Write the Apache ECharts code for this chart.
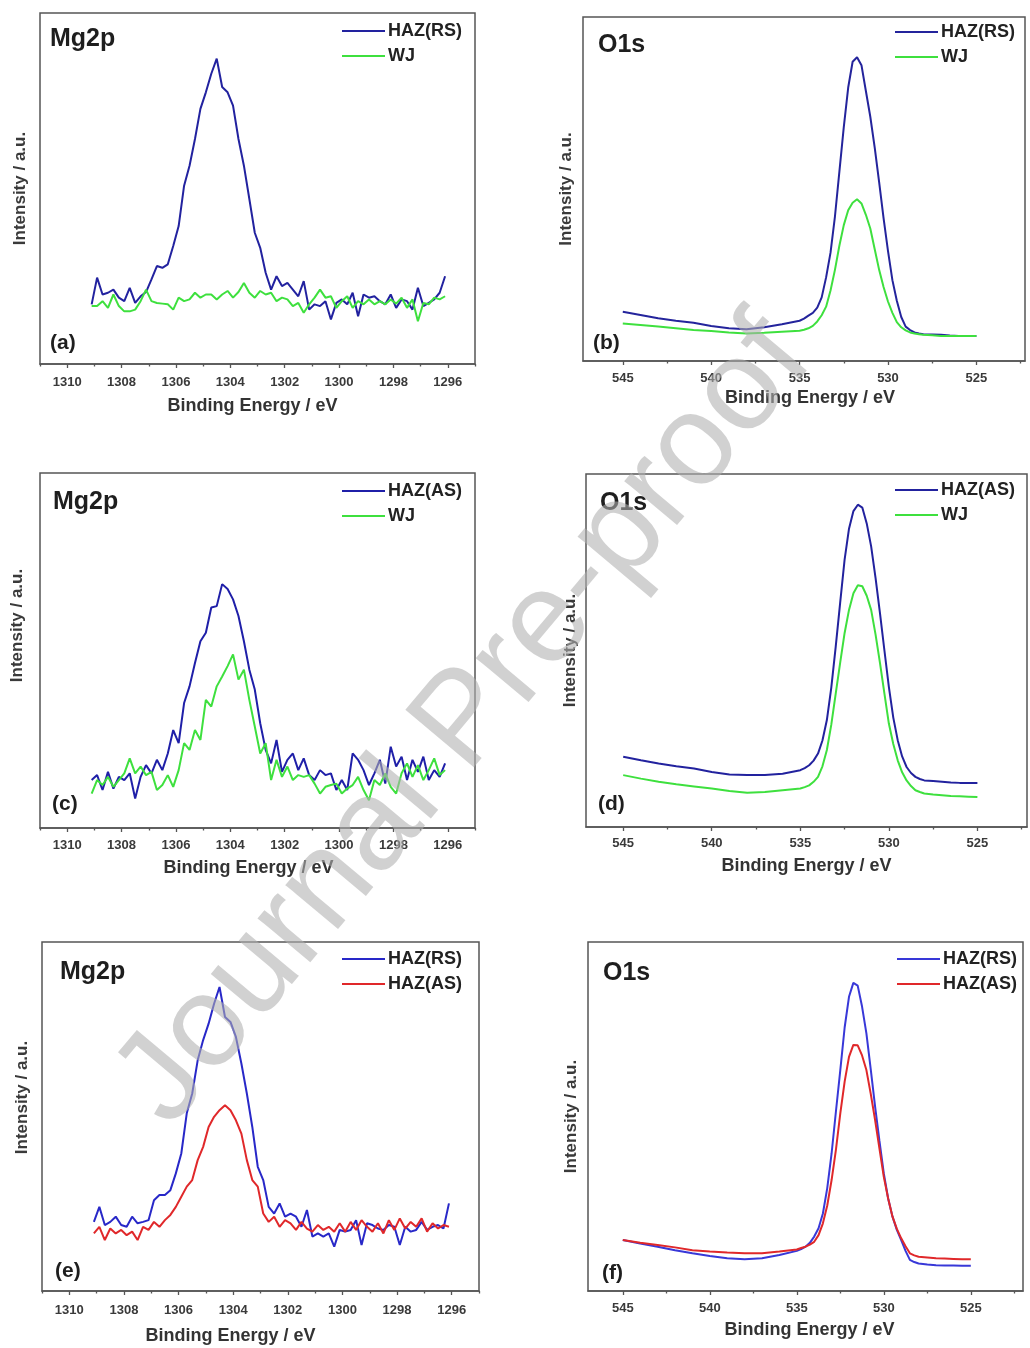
<!DOCTYPE html>
<html>
<head>
<meta charset="utf-8">
<script src="https://cdn.jsdelivr.net/npm/echarts@6/dist/echarts.min.js"></script>
<style>html,body{margin:0;padding:0;background:#fff}#c{width:1030px;height:1348px}</style>
</head>
<body>
<div id="c"></div>
<script>
// ---------- data (binding energy in eV, intensity in arbitrary units) ----------
const mgEnergy = [1309.1,1308.9,1308.7,1308.5,1308.3,1308.1,1307.9,1307.7,1307.5,1307.3,1307.1,1306.9,1306.7,1306.5,1306.3,1306.1,1305.9,1305.7,1305.5,1305.3,1305.1,1304.9,1304.7,1304.5,1304.3,1304.1,1303.9,1303.7,1303.5,1303.3,1303.1,1302.9,1302.7,1302.5,1302.3,1302.1,1301.9,1301.7,1301.5,1301.3,1301.1,1300.9,1300.7,1300.5,1300.3,1300.1,1299.9,1299.7,1299.5,1299.3,1299.1,1298.9,1298.7,1298.5,1298.3,1298.1,1297.9,1297.7,1297.5,1297.3,1297.1,1296.9,1296.7,1296.5,1296.3,1296.1];

const mgA_HAZRS = [17.0,24.6,19.8,20.3,21.2,18.9,17.9,21.7,17.4,19.3,20.5,24.1,27.9,27.4,28.4,33.6,39.3,50.8,56.5,64.1,72.7,77.4,82.7,87.0,78.9,77.4,73.6,64.1,56.5,47.0,37.4,33.1,26.0,21.2,25.0,22.2,23.1,21.2,19.3,23.6,15.5,17.0,16.5,17.9,12.7,17.4,18.4,17.0,20.3,13.6,19.8,18.9,19.3,17.9,17.0,19.8,16.0,18.4,17.9,15.5,21.7,16.5,17.4,18.4,20.3,25.0];
const mgA_WJ = [16.5,16.5,17.9,16.0,19.8,16.5,15.0,15.0,15.5,17.9,21.2,17.9,17.4,17.2,17.0,15.5,18.9,17.9,18.4,20.3,18.9,19.8,19.8,18.4,19.8,20.8,18.9,20.5,23.1,20.3,18.9,20.8,19.8,20.3,17.9,18.9,18.4,16.5,17.4,14.6,17.0,18.9,21.2,18.9,19.3,16.0,17.9,19.3,16.0,17.9,17.0,18.4,17.0,17.9,17.0,18.4,17.2,18.9,16.0,18.4,12.2,17.4,17.0,18.9,18.4,19.3];

const mgC_HAZAS = [13.5,14.9,10.7,15.8,11.1,14.4,13.5,15.4,8.3,14.4,17.7,15.4,19.2,16.3,21.0,27.6,23.9,35.2,39.9,46.5,52.6,55.0,62.1,62.5,68.7,67.3,64.4,59.7,52.6,44.6,39.0,29.5,22.0,18.2,24.8,15.8,19.2,21.0,16.3,19.6,14.9,13.5,16.3,14.9,15.4,10.7,13.5,10.7,21.0,19.2,16.3,12.1,15.4,19.2,12.5,22.9,17.3,20.1,13.5,19.2,15.8,20.1,13.5,16.3,14.4,18.2];
const mgC_WJ = [9.7,13.5,12.1,14.4,11.6,13.5,15.4,19.6,15.4,17.3,14.9,15.8,10.7,12.1,14.9,11.6,16.3,23.9,22.0,27.6,24.8,36.1,34.2,39.9,42.7,45.6,48.9,41.8,44.6,36.1,28.6,21.0,23.9,13.5,19.2,14.4,17.3,13.5,14.9,14.4,14.9,12.5,9.7,11.6,12.1,12.5,9.7,11.1,12.1,14.4,10.7,7.8,13.5,12.1,15.4,11.6,9.7,15.4,18.2,14.4,17.7,13.5,16.3,19.6,14.9,16.3];

const mgE_HAZRS = [19.8,24.1,18.9,19.8,21.3,18.9,18.4,21.3,19.4,19.8,20.3,26.0,27.5,27.5,28.9,33.7,39.4,50.9,56.6,66.1,71.9,76.6,82.3,87.1,78.5,77.1,72.8,65.2,56.6,47.0,35.6,31.8,24.1,22.2,25.1,21.3,22.2,21.3,18.4,23.2,15.6,16.5,15.6,16.5,12.7,17.5,17.0,17.5,20.3,13.2,19.4,18.9,17.9,17.5,18.9,18.4,13.2,18.4,17.0,17.5,19.8,17.5,18.4,18.9,17.9,25.1];
const mgE_HAZAS = [16.5,18.4,14.6,17.9,16.5,17.5,16.0,17.0,14.6,18.4,17.5,19.8,18.4,20.3,21.8,24.1,27.0,29.9,31.8,37.5,41.3,47.0,49.9,51.8,53.2,51.8,48.9,45.1,37.5,31.8,29.9,22.2,19.8,21.3,18.4,20.3,19.4,17.5,19.8,17.9,17.0,18.9,17.5,18.4,17.0,19.4,17.0,19.8,17.5,20.3,18.4,17.0,19.4,16.5,20.3,17.5,20.8,17.9,19.8,18.4,20.8,17.0,19.4,17.9,18.9,18.4];

const oEnergy = [545,544,543,542,541,540,539,538,537,536,535,534.75,534.5,534.25,534,533.75,533.5,533.25,533,532.75,532.5,532.25,532,531.75,531.5,531.25,531,530.75,530.5,530.25,530,529.75,529.5,529.25,529,528.75,528.5,528.25,528,527.5,527,526.5,526,525.5,525];

const oB_HAZRS = [14.3,13.4,12.4,11.7,11.1,10.2,9.5,9.2,9.8,10.7,11.7,12.3,13.2,14.0,15.5,18.5,24.3,31.5,42.0,55.0,68.0,79.5,87.0,88.3,86.0,78.5,71.0,62.0,52.0,41.5,32.0,23.5,17.5,12.8,10.0,9.0,8.3,8.0,7.8,7.7,7.6,7.4,7.3,7.3,7.3];
const oB_WJ = [10.9,10.5,10.0,9.5,9.0,8.7,8.3,8.0,8.2,8.5,8.8,9.1,9.5,10.2,11.5,13.3,15.8,20.5,26.5,33.5,39.5,43.8,46.0,47.0,45.8,42.5,38.5,32.5,26.5,21.5,17.3,14.0,11.3,9.8,8.9,8.3,8.0,7.8,7.6,7.5,7.3,7.3,7.3,7.3,7.3];

const oD_HAZAS = [19.9,18.9,18.0,17.2,16.6,15.6,14.9,14.7,14.7,15.1,16.1,16.7,17.5,18.8,20.8,24.5,30.3,39.5,51.1,63.5,75.7,84.5,89.5,91.3,90.5,86.0,79.5,70.5,60.5,50.0,39.7,31.0,24.6,20.0,17.0,15.3,14.2,13.6,13.2,13.0,12.8,12.6,12.5,12.5,12.5];
const oD_WJ = [14.7,13.7,12.8,12.1,11.5,10.9,10.2,9.7,9.9,10.4,10.9,11.3,11.8,12.8,14.2,17.2,21.8,29.0,37.8,46.5,54.9,61.5,66.2,68.5,68.2,65.5,61.5,54.5,46.4,37.8,29.3,23.5,18.9,15.5,13.2,11.6,10.4,9.9,9.5,9.2,9.0,8.8,8.7,8.6,8.5];

const oF_HAZRS = [14.6,13.6,12.7,11.7,10.8,10.0,9.4,9.1,9.4,10.3,11.5,12.0,12.7,13.8,15.6,18.0,22.2,29.5,39.4,51.5,63.3,75.5,84.3,88.3,87.5,81.5,73.8,63.5,52.8,43.0,33.7,26.5,21.3,17.5,14.6,11.5,8.9,8.3,7.9,7.6,7.4,7.3,7.3,7.2,7.2];
const oF_HAZAS = [14.6,13.8,13.2,12.5,11.7,11.3,11.0,10.8,10.8,11.3,11.9,12.3,12.7,13.3,14.1,16.0,19.4,24.5,31.8,40.5,50.9,60.0,67.1,70.5,70.4,67.5,63.3,56.5,49.0,40.8,32.7,26.5,21.3,17.8,15.1,12.8,10.8,10.2,9.8,9.6,9.4,9.3,9.2,9.1,9.1];

const mgMajorTicks = [1296,1298,1300,1302,1304,1306,1308,1310];
const mgMinorTicks = [1295,1297,1299,1301,1303,1305,1307,1309,1311];
const oMajorTicks = [525,530,535,540,545];
const oMinorTicks = [522.5,527.5,532.5,537.5,542.5];

// ---------- layout / styling ----------
const FONT = '"Liberation Sans", Arial, sans-serif';
const FRAME = '#555555';

const panels = [
  {grid:{left:40,top:13,width:435,height:351}, x:[1295,1311], major:mgMajorTicks, minor:mgMinorTicks, lm:12, xg:33, xs:-5, yg:11, ys:0,
   title:'Mg2p', tx:50, ty:39, tag:'(a)', gx:50, gy:343, lx:342, ly:22,
   s:[{name:'HAZ(RS)', e:mgEnergy, v:mgA_HAZRS, c:'#22229f'},{name:'WJ', e:mgEnergy, v:mgA_WJ, c:'#3ee03e'}]},
  {grid:{left:583,top:17,width:442,height:344}, x:[522.25,547.25], major:oMajorTicks, minor:oMinorTicks, lm:11, xg:28, xs:6, yg:8, ys:0,
   title:'O1s', tx:598, ty:45, tag:'(b)', gx:593, gy:343, lx:895, ly:23,
   s:[{name:'HAZ(RS)', e:oEnergy, v:oB_HAZRS, c:'#24249c'},{name:'WJ', e:oEnergy, v:oB_WJ, c:'#3ee03e'}]},
  {grid:{left:40,top:473,width:435,height:355}, x:[1295,1311], major:mgMajorTicks, minor:mgMinorTicks, lm:11, xg:31, xs:-9, yg:14, ys:25,
   title:'Mg2p', tx:53, ty:502, tag:'(c)', gx:52, gy:804, lx:342, ly:482,
   s:[{name:'HAZ(AS)', e:mgEnergy, v:mgC_HAZAS, c:'#1f1fa8'},{name:'WJ', e:mgEnergy, v:mgC_WJ, c:'#3ee03e'}]},
  {grid:{left:586,top:474,width:441,height:353}, x:[522.2,547.1], major:oMajorTicks, minor:oMinorTicks, lm:10, xg:30, xs:0, yg:7, ys:0,
   title:'O1s', tx:600, ty:503, tag:'(d)', gx:598, gy:804, lx:895, ly:481,
   s:[{name:'HAZ(AS)', e:oEnergy, v:oD_HAZAS, c:'#22229e'},{name:'WJ', e:oEnergy, v:oD_WJ, c:'#3ee03e'}]},
  {grid:{left:42,top:942,width:437,height:349}, x:[1295,1311], major:mgMajorTicks, minor:mgMinorTicks, lm:13, xg:36, xs:-30, yg:11, ys:19,
   title:'Mg2p', tx:60, ty:972, tag:'(e)', gx:55, gy:1271, lx:342, ly:950,
   s:[{name:'HAZ(RS)', e:mgEnergy, v:mgE_HAZRS, c:'#2828c8'},{name:'HAZ(AS)', e:mgEnergy, v:mgE_HAZAS, c:'#e0282a'}]},
  {grid:{left:588,top:942,width:435,height:349}, x:[522.0,547.0], major:oMajorTicks, minor:oMinorTicks, lm:11, xg:30, xs:4, yg:8, ys:0,
   title:'O1s', tx:603, ty:973, tag:'(f)', gx:602, gy:1273, lx:897, ly:950,
   s:[{name:'HAZ(RS)', e:oEnergy, v:oF_HAZRS, c:'#3838d8'},{name:'HAZ(AS)', e:oEnergy, v:oF_HAZAS, c:'#e0282a'}]}
];

const grid = [], xAxis = [], yAxis = [], series = [], legend = [], graphic = [];

panels.forEach((p, i) => {
  grid.push(Object.assign({show:true, borderColor:FRAME, borderWidth:1.5, containLabel:false}, p.grid));
  const xpad = p.xs < 0 ? [0, -2*p.xs, 0, 0] : [0, 0, 0, 2*p.xs];
  xAxis.push({
    gridIndex:i, type:'value', inverse:true, min:p.x[0], max:p.x[1], position:'bottom',
    axisLine:{show:true, onZero:false, lineStyle:{color:FRAME, width:1.5}},
    axisTick:{show:true, inside:false, length:4, customValues:p.major, lineStyle:{color:FRAME, width:1.3}},
    axisLabel:{show:true, customValues:p.major, margin:p.lm, fontSize:13, fontWeight:'bold', color:'#3a3a3a', fontFamily:FONT,
               formatter:v => String(v)},
    splitLine:{show:false},
    name:'Binding Energy / eV', nameLocation:'middle', nameGap:p.xg,
    nameTextStyle:{fontSize:18, fontWeight:'bold', color:'#333', fontFamily:FONT, padding:xpad}
  });
  xAxis.push({
    gridIndex:i, type:'value', inverse:true, min:p.x[0], max:p.x[1], position:'bottom',
    axisLine:{show:false},
    axisTick:{show:true, inside:false, length:2.5, customValues:p.minor, lineStyle:{color:FRAME, width:1.3}},
    axisLabel:{show:false}, splitLine:{show:false}
  });
  yAxis.push({
    gridIndex:i, type:'value', min:0, max:100,
    axisLine:{show:false}, axisTick:{show:false}, axisLabel:{show:false}, splitLine:{show:false},
    name:'Intensity / a.u.', nameLocation:'middle', nameGap:p.yg, nameRotate:90,
    nameTextStyle:{fontSize:17, fontWeight:'bold', color:'#3a3a3a', fontFamily:FONT, padding:[0,0,0,2*p.ys]}
  });
  p.s.forEach(s => {
    series.push({
      type:'line', name:s.name, xAxisIndex:2*i, yAxisIndex:i,
      data:s.e.map((e, k) => [e, s.v[k]]),
      symbol:'none', smooth:false,
      lineStyle:{color:s.c, width:2}, itemStyle:{color:s.c},
      emphasis:{disabled:true}
    });
  });
  legend.push({
    orient:'vertical', left:p.lx, top:p.ly, padding:0, itemWidth:43, itemHeight:2.2, itemGap:7,
    icon:'rect', selectedMode:false,
    data:p.s.map(s => ({name:s.name, itemStyle:{color:s.c}})),
    textStyle:{fontSize:18, fontWeight:'bold', color:'#222', fontFamily:FONT, padding:[0,0,0,-2]}
  });
  graphic.push({type:'text', x:p.tx, y:p.ty, z:50,
    style:{text:p.title, font:'bold 25px ' + FONT, fill:'#1e1e1e', align:'left', verticalAlign:'middle'}});
  graphic.push({type:'text', x:p.gx, y:p.gy, z:50,
    style:{text:p.tag, font:'bold 21px ' + FONT, fill:'#1e1e1e', align:'left', verticalAlign:'middle'}});
});

// watermark
graphic.push({type:'text', x:465, y:722, rotation:50 * Math.PI / 180, z:100,
  style:{text:'Journal Pre-proof', font:'130px ' + FONT, fill:'rgba(175,175,175,0.58)', align:'center', verticalAlign:'middle'}});

const chart = echarts.init(document.getElementById('c'), null, {renderer:'canvas'});
chart.setOption({
  animation:false, backgroundColor:'#ffffff',
  grid, xAxis, yAxis, series, legend, graphic
});
</script>
</body>
</html>
